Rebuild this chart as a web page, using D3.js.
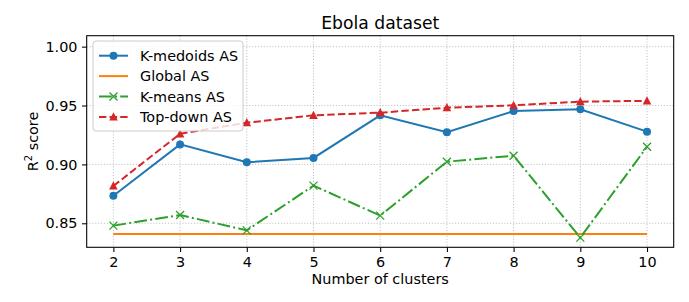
<!DOCTYPE html>
<html><head><meta charset="utf-8">
<script src="https://cdn.jsdelivr.net/npm/d3@7"></script>
<style>body{margin:0;background:#fff}svg{display:block}text{font-family:"DejaVu Sans",sans-serif;fill:#000}</style>
</head><body><svg id="c" width="689" height="302"></svg>
<script>
const clusters = [2,3,4,5,6,7,8,9,10];
const kMedoids = [0.8734,0.9170,0.9018,0.9055,0.9417,0.9273,0.9453,0.9468,0.9278];
const globalAS = [0.8409,0.8409,0.8409,0.8409,0.8409,0.8409,0.8409,0.8409,0.8409];
const kMeans = [0.8480,0.8570,0.8440,0.8820,0.8565,0.9023,0.9074,0.8378,0.9150];
const topDown = [0.8817,0.9260,0.9354,0.9417,0.9439,0.9482,0.9502,0.9533,0.9540];
const yTicks = [0.85,0.90,0.95,1.00];
const seriesNames = ["K-medoids AS","Global AS","K-means AS","Top-down AS"];

const svg = d3.select("#c");
const L=86.7,R=673.7,T=35.7,B=247.3;
const x = d3.scaleLinear().domain([1.6,10.4]).range([L,R]);
const y = d3.scaleLinear().domain([0.8296,1.0093]).range([B,T]);

// grid
const g = svg.append("g");
clusters.forEach(c=>g.append("line").attr("x1",x(c)).attr("x2",x(c)).attr("y1",T).attr("y2",B)
  .attr("stroke","#b0b0b0").attr("stroke-width",0.8).attr("stroke-dasharray","1.1,1.8"));
yTicks.forEach(v=>g.append("line").attr("x1",L).attr("x2",R).attr("y1",y(v)).attr("y2",y(v))
  .attr("stroke","#b0b0b0").attr("stroke-width",0.8).attr("stroke-dasharray","1.1,1.8"));

const series = [
  {name:seriesNames[0], vals:kMedoids, color:"#1f77b4", dash:null, marker:"circle"},
  {name:seriesNames[1], vals:globalAS, color:"#ff7f0e", dash:null, marker:null},
  {name:seriesNames[2], vals:kMeans, color:"#2ca02c", dash:"12.8,3.2,2,3.2", marker:"x"},
  {name:seriesNames[3], vals:topDown, color:"#d62728", dash:"7.4,3.2", marker:"tri"}
];
const line = d3.line().x((d,i)=>x(clusters[i])).y(d=>y(d));
function drawMarker(sel, type, cx, cy, color){
  if(type==="circle") sel.append("circle").attr("cx",cx).attr("cy",cy).attr("r",4).attr("fill",color);
  else if(type==="tri") sel.append("path").attr("d",`M${cx},${cy-4.6}L${cx+4.3},${cy+3.6}L${cx-4.3},${cy+3.6}Z`).attr("fill",color);
  else if(type==="x") sel.append("path").attr("d",`M${cx-4},${cy-4}L${cx+4},${cy+4}M${cx-4},${cy+4}L${cx+4},${cy-4}`).attr("stroke",color).attr("stroke-width",1.3).attr("fill","none");
}
const plot = svg.append("g");
series.forEach(s=>{
  plot.append("path").datum(s.vals).attr("d",line).attr("fill","none").attr("stroke",s.color)
    .attr("stroke-width",2).attr("stroke-dasharray",s.dash);
  if(s.marker) s.vals.forEach((v,i)=>drawMarker(plot,s.marker,x(clusters[i]),y(v),s.color));
});

// spines
svg.append("rect").attr("x",L).attr("y",T).attr("width",R-L).attr("height",B-T)
  .attr("fill","none").attr("stroke","#000").attr("stroke-width",1.07);

// axes
const xa = svg.append("g").attr("transform",`translate(0,${B})`)
  .call(d3.axisBottom(x).tickValues(clusters).tickFormat(d3.format("d")).tickSize(4.7).tickPadding(4.5));
const ya = svg.append("g").attr("transform",`translate(${L},0)`)
  .call(d3.axisLeft(y).tickValues(yTicks).tickFormat(d3.format(".2f")).tickSize(4.7).tickPadding(4.5));
[xa,ya].forEach(a=>{a.select(".domain").remove();
  a.selectAll("line").attr("stroke","#000").attr("stroke-width",1.07);
  a.selectAll("text").style("font-family","DejaVu Sans").style("font-size","14.4px").attr("fill","#000");});

// title & labels
svg.append("text").attr("x",(L+R)/2).attr("y",29).attr("text-anchor","middle").style("font-size","17.2px").text("Ebola dataset");
svg.append("text").attr("x",(L+R)/2).attr("y",284).attr("text-anchor","middle").style("font-size","14.4px").text("Number of clusters");
const yl = svg.append("text").attr("transform",`translate(38,${(T+B)/2}) rotate(-90)`).attr("text-anchor","middle").style("font-size","14.4px");
yl.append("tspan").text("R");
yl.append("tspan").attr("dy",-6).style("font-size","10px").text("2");
yl.append("tspan").attr("dy",6).text(" score");

// legend
const lg = svg.append("g");
lg.append("rect").attr("x",93).attr("y",41).attr("width",150).attr("height",90).attr("rx",3)
  .attr("fill","#fff").attr("fill-opacity",0.8).attr("stroke","#ccc").attr("stroke-width",1);
series.forEach((s,i)=>{
  const cy = 55.7 + i*20.4;
  lg.append("line").attr("x1",99).attr("x2",128).attr("y1",cy).attr("y2",cy).attr("stroke",s.color)
    .attr("stroke-width",2).attr("stroke-dasharray",s.dash);
  if(s.marker) drawMarker(lg,s.marker,113.5,cy,s.color);
  lg.append("text").attr("x",140).attr("y",cy+5.2).style("font-size","14.4px").text(s.name);
});
</script></body></html>
